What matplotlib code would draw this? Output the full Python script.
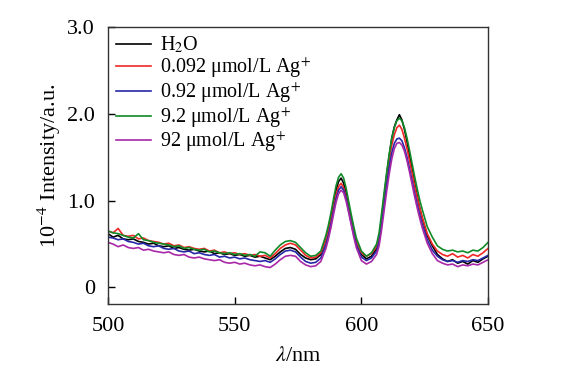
import matplotlib
matplotlib.use('Agg')
import matplotlib.pyplot as plt
import numpy as np

plt.rcParams['font.family'] = ['Liberation Serif', 'DejaVu Serif']
plt.rcParams['mathtext.fontset'] = 'stix'

# Wavelength grid (nm)
lam = ([500 + 2 * i for i in range(42)] + [584, 586]
       + list(range(587, 599)) + [600, 602, 604, 606]
       + list(range(607, 625)) + [626 + 2 * i for i in range(13)])

# Intensities (x 10^4, a.u.)
h2o = [0.62, 0.58, 0.60, 0.56, 0.55, 0.56, 0.53, 0.52, 0.50, 0.51,
       0.48, 0.47, 0.48, 0.45, 0.46, 0.44, 0.43, 0.44, 0.42, 0.41,
       0.42, 0.39, 0.40, 0.38, 0.39, 0.37, 0.38, 0.36, 0.37, 0.35,
       0.36, 0.34, 0.32, 0.36, 0.41, 0.45, 0.46, 0.44, 0.38, 0.34,
       0.32, 0.33,
       0.38, 0.55,
       0.66, 0.80, 0.96, 1.12, 1.22, 1.26, 1.20, 1.08, 0.93, 0.78, 0.64, 0.52,
       0.38, 0.33, 0.36, 0.45,
       0.58, 0.80, 1.05, 1.30, 1.52, 1.72, 1.85, 1.93, 1.99, 1.93,
       1.82, 1.68, 1.52, 1.36, 1.20, 1.06, 0.92, 0.80,
       0.60, 0.48, 0.38, 0.33, 0.30, 0.32, 0.28, 0.30, 0.27, 0.31, 0.29, 0.33, 0.36]

ag_0092 = [0.65, 0.63, 0.68, 0.60, 0.59, 0.60, 0.56, 0.57, 0.54, 0.53,
           0.52, 0.50, 0.51, 0.48, 0.49, 0.46, 0.47, 0.45, 0.44, 0.45,
           0.42, 0.43, 0.40, 0.41, 0.39, 0.40, 0.38, 0.39, 0.37, 0.38,
           0.36, 0.37, 0.34, 0.39, 0.45, 0.49, 0.51, 0.49, 0.43, 0.37,
           0.34, 0.35,
           0.40, 0.55,
           0.65, 0.78, 0.93, 1.07, 1.16, 1.20, 1.15, 1.04, 0.90, 0.76, 0.63, 0.52,
           0.40, 0.36, 0.39, 0.47,
           0.58, 0.78, 1.02, 1.26, 1.47, 1.64, 1.76, 1.84, 1.87, 1.82,
           1.72, 1.60, 1.46, 1.32, 1.17, 1.04, 0.92, 0.81,
           0.62, 0.50, 0.42, 0.38, 0.36, 0.39, 0.35, 0.37, 0.34, 0.38, 0.36, 0.40, 0.45]

ag_092 = [0.58, 0.57, 0.55, 0.56, 0.53, 0.52, 0.50, 0.51, 0.48, 0.47,
          0.48, 0.45, 0.44, 0.45, 0.42, 0.41, 0.42, 0.39, 0.40, 0.38,
          0.37, 0.38, 0.35, 0.36, 0.34, 0.35, 0.33, 0.34, 0.32, 0.31,
          0.30, 0.31, 0.29, 0.33, 0.38, 0.42, 0.43, 0.41, 0.35, 0.30,
          0.28, 0.29,
          0.34, 0.49,
          0.60, 0.73, 0.88, 1.02, 1.12, 1.16, 1.12, 1.02, 0.88, 0.74, 0.61, 0.49,
          0.35, 0.31, 0.34, 0.42,
          0.53, 0.73, 0.96, 1.19, 1.39, 1.55, 1.66, 1.71, 1.72, 1.69,
          1.61, 1.50, 1.37, 1.23, 1.09, 0.96, 0.84, 0.73,
          0.55, 0.43, 0.36, 0.32, 0.30, 0.31, 0.29, 0.31, 0.30, 0.32, 0.31, 0.34, 0.37]

ag_92 = [0.65, 0.63, 0.62, 0.60, 0.58, 0.57, 0.62, 0.55, 0.54, 0.52,
         0.51, 0.50, 0.49, 0.47, 0.48, 0.45, 0.46, 0.44, 0.43, 0.44,
         0.41, 0.42, 0.40, 0.39, 0.40, 0.38, 0.39, 0.37, 0.38, 0.36,
         0.41, 0.40, 0.36, 0.43, 0.49, 0.53, 0.54, 0.52, 0.46, 0.40,
         0.36, 0.37,
         0.42, 0.60,
         0.72, 0.86, 1.02, 1.17, 1.27, 1.31, 1.26, 1.14, 0.99, 0.84, 0.70, 0.57,
         0.42, 0.36, 0.40, 0.50,
         0.63, 0.86, 1.10, 1.33, 1.54, 1.72, 1.84, 1.92, 1.95, 1.92,
         1.84, 1.72, 1.58, 1.43, 1.28, 1.14, 1.01, 0.90,
         0.70, 0.58, 0.48, 0.44, 0.42, 0.43, 0.41, 0.42, 0.40, 0.43, 0.42, 0.46, 0.52]

ag_920 = [0.52, 0.50, 0.47, 0.49, 0.46, 0.45, 0.46, 0.43, 0.44, 0.42,
          0.41, 0.40, 0.41, 0.38, 0.37, 0.38, 0.35, 0.34, 0.35, 0.33,
          0.32, 0.31, 0.32, 0.29, 0.28, 0.29, 0.27, 0.28, 0.26, 0.25,
          0.26, 0.24, 0.23, 0.27, 0.32, 0.36, 0.37, 0.36, 0.30, 0.26,
          0.24, 0.25,
          0.30, 0.45,
          0.56, 0.69, 0.84, 0.98, 1.08, 1.12, 1.09, 0.99, 0.86, 0.72, 0.58, 0.46,
          0.31, 0.27, 0.30, 0.38,
          0.48, 0.67, 0.89, 1.11, 1.31, 1.48, 1.60, 1.66, 1.67, 1.64,
          1.57, 1.46, 1.33, 1.19, 1.05, 0.92, 0.80, 0.69,
          0.51, 0.39, 0.31, 0.28, 0.26, 0.27, 0.24, 0.26, 0.25, 0.27, 0.26, 0.29, 0.32]

labels = ['H$_2$O', '0.092 μmol/L Ag$^{+}$', '0.92 μmol/L Ag$^{+}$',
          '9.2 μmol/L Ag$^{+}$', '92 μmol/L Ag$^{+}$']
series = [h2o, ag_0092, ag_092, ag_92, ag_920]
colors = ['#000000', '#f02828', '#2828a8', '#108a28', '#a828a8']

fig = plt.figure(figsize=(5.61, 3.73), dpi=100)
ax = fig.add_axes([0.1925, 0.185, 0.6775, 0.7426])

for s, c, lb in zip(series, colors, labels):
    ax.plot(lam, s, color=c, lw=1.2, label=lb)

ax.set_xlim(500, 650)
ax.set_ylim(-0.19, 3.0)
ax.set_xticks([500, 550, 600, 650])
ax.set_yticks([0, 1, 2, 3])
ax.set_yticklabels(['0', '1.0', '2.0', '3.0'])
ax.tick_params(direction='in', length=5, labelsize=16, width=1, pad=9.5,
               top=False, right=False)
for sp in ax.spines.values():
    sp.set_linewidth(1.0)
    sp.set_color('#333333')

ax.set_xlabel('$\\lambda$/nm', fontsize=16, labelpad=8)
ax.set_ylabel('10$^{-4}$ Intensity/a.u.', fontsize=16, labelpad=3)

ax.legend(loc='upper left', frameon=False, fontsize=14.5, handlelength=1.75,
          handletextpad=0.45, labelspacing=0.0, borderaxespad=0.3,
          borderpad=0.1)

fig.savefig('out.png', dpi=100)
